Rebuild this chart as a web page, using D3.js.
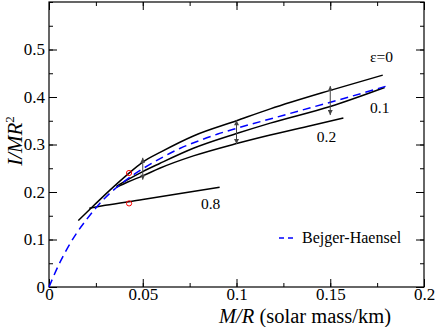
<!DOCTYPE html>
<html>
<head>
<meta charset="utf-8">
<script src="https://cdn.jsdelivr.net/npm/d3@7"></script>
<style>
  body { margin: 0; background: #fff; }
</style>
</head>
<body>
<svg id="chart" width="436" height="327" font-family="'Liberation Serif', 'Times New Roman', serif"></svg>
<script>
// values, [M/R, I/MR^2]
const eps0 = [[0.0156, 0.140], [0.024, 0.172], [0.0325, 0.204], [0.041, 0.234], [0.05, 0.263],
  [0.06, 0.285], [0.077, 0.318], [0.1, 0.350], [0.118, 0.375], [0.15, 0.414], [0.178, 0.446]];
const eps01 = [[0.036, 0.212], [0.042, 0.226], [0.05, 0.243], [0.059, 0.260], [0.077, 0.292],
  [0.1, 0.323], [0.118, 0.345], [0.15, 0.380], [0.179, 0.420]];
const eps02 = [[0.036, 0.210], [0.042, 0.221], [0.05, 0.234], [0.059, 0.250], [0.077, 0.276],
  [0.1, 0.302], [0.118, 0.320], [0.14, 0.340], [0.157, 0.356]];
const eps08 = [[0.0215, 0.166], [0.03, 0.172], [0.05, 0.184], [0.07, 0.197], [0.091, 0.210]];
const bejger = [[0, 0], [0.005, 0.045], [0.01, 0.083], [0.015, 0.115], [0.02, 0.142], [0.03, 0.188],
  [0.04, 0.222], [0.05, 0.249], [0.06, 0.272], [0.07, 0.292], [0.08, 0.308], [0.09, 0.322],
  [0.1, 0.334], [0.12, 0.356], [0.14, 0.378], [0.16, 0.400], [0.18, 0.423]];
const circles = [[0.0427, 0.240], [0.0427, 0.176]];
// double arrows: x, top, bottom
const arrows = [[0.05, 0.272, 0.226], [0.1, 0.351, 0.301], [0.15, 0.423, 0.362]];

const xTicks = [0, 0.05, 0.1, 0.15, 0.2];
const xTickLabels = ['0', '0.05', '0.1', '0.15', '0.2'];
const yTicks = [0, 0.1, 0.2, 0.3, 0.4, 0.5];
const yTickLabels = ['0', '0.1', '0.2', '0.3', '0.4', '0.5'];
const curveLabels = [
  { text: 'ε=0', x: 0.1712, y: 0.474 },
  { text: '0.1', x: 0.1712, y: 0.366 },
  { text: '0.2', x: 0.1428, y: 0.305 },
  { text: '0.8', x: 0.081, y: 0.164 }
];

const margin = { top: 2, right: 12, bottom: 40, left: 49 };
const W = 436, H = 327;

const svg = d3.select('#chart');

const x = d3.scaleLinear().domain([0, 0.2]).range([margin.left, W - margin.right]);
const y = d3.scaleLinear().domain([0, 0.6]).range([H - margin.bottom, margin.top]);

// ticks on all four sides, pointing inwards
const xMinor = d3.range(0, 0.2001, 0.025);
const yMinor = d3.range(0, 0.6001, 0.05);
const axisG = svg.append('g');

axisG.append('g').attr('transform', `translate(0,${y(0)})`)
  .call(d3.axisBottom(x).tickValues(xMinor).tickSize(-4).tickFormat(''));
axisG.append('g').attr('transform', `translate(0,${y(0)})`)
  .call(d3.axisBottom(x).tickValues(xTicks).tickSize(-8).tickPadding(1)
    .tickFormat((d, i) => xTickLabels[i]));
axisG.append('g').attr('transform', `translate(0,${y(0.6)})`)
  .call(d3.axisTop(x).tickValues(xMinor).tickSize(-4).tickFormat(''));
axisG.append('g').attr('transform', `translate(0,${y(0.6)})`)
  .call(d3.axisTop(x).tickValues(xTicks).tickSize(-8).tickFormat(''));

axisG.append('g').attr('transform', `translate(${x(0)},0)`)
  .call(d3.axisLeft(y).tickValues(yMinor).tickSize(-4).tickFormat(''));
axisG.append('g').attr('transform', `translate(${x(0)},0)`)
  .call(d3.axisLeft(y).tickValues(yTicks).tickSize(-8).tickPadding(4)
    .tickFormat((d, i) => yTickLabels[i]));
axisG.append('g').attr('transform', `translate(${x(0.2)},0)`)
  .call(d3.axisRight(y).tickValues(yMinor).tickSize(-4).tickFormat(''));
axisG.append('g').attr('transform', `translate(${x(0.2)},0)`)
  .call(d3.axisRight(y).tickValues(yTicks).tickSize(-8).tickFormat(''));

axisG.selectAll('g').attr('font-family', "'Liberation Serif', serif").attr('font-size', 17);
axisG.selectAll('.domain').remove();
axisG.selectAll('.tick line').attr('stroke', '#000');
axisG.selectAll('.tick text').attr('fill', '#000');

// frame
svg.append('rect')
  .attr('x', x(0)).attr('y', y(0.6))
  .attr('width', x(0.2) - x(0)).attr('height', y(0) - y(0.6))
  .attr('fill', 'none').attr('stroke', '#000').attr('stroke-width', 1.2);

const line = d3.line()
  .x(d => x(d[0]))
  .y(d => y(d[1]))
  .curve(d3.curveMonotoneX);

[eps0, eps01, eps02, eps08].forEach(s => {
  svg.append('path')
    .datum(s)
    .attr('d', line)
    .attr('fill', 'none')
    .attr('stroke', '#000')
    .attr('stroke-width', 1.5);
});

svg.append('path')
  .datum(bejger)
  .attr('d', line)
  .attr('fill', 'none')
  .attr('stroke', '#0000ff')
  .attr('stroke-width', 1.5)
  .attr('stroke-dasharray', '8,5');

svg.selectAll('.pt')
  .data(circles)
  .join('circle')
  .attr('cx', d => x(d[0]))
  .attr('cy', d => y(d[1]))
  .attr('r', 2.6)
  .attr('fill', 'none')
  .attr('stroke', '#ff0000')
  .attr('stroke-width', 1);

// arrowheads
const defs = svg.append('defs');
defs.append('marker')
  .attr('id', 'head')
  .attr('viewBox', '0 0 10 10')
  .attr('refX', 10).attr('refY', 5)
  .attr('markerWidth', 6).attr('markerHeight', 5)
  .attr('markerUnits', 'userSpaceOnUse')
  .attr('orient', 'auto-start-reverse')
  .append('path')
  .attr('d', 'M0,0 L10,5 L0,10 Z')
  .attr('fill', '#444');

svg.selectAll('.arr')
  .data(arrows)
  .join('line')
  .attr('x1', d => x(d[0])).attr('x2', d => x(d[0]))
  .attr('y1', d => y(d[1])).attr('y2', d => y(d[2]))
  .attr('stroke', '#444')
  .attr('stroke-width', 1)
  .attr('marker-start', 'url(#head)')
  .attr('marker-end', 'url(#head)');

svg.selectAll('.clab')
  .data(curveLabels)
  .join('text')
  .attr('x', d => x(d.x))
  .attr('y', d => y(d.y))
  .attr('font-size', 15.5)
  .text(d => d.text);

// legend
const lg = svg.append('g').attr('transform', 'translate(279,238)');
lg.append('line')
  .attr('x1', 0).attr('x2', 15).attr('y1', 0).attr('y2', 0)
  .attr('stroke', '#0000ff').attr('stroke-width', 1.5)
  .attr('stroke-dasharray', '5,4');
lg.append('text')
  .attr('x', 23).attr('y', 5)
  .attr('font-size', 16)
  .text('Bejger-Haensel');

// axis titles
const xt = svg.append('text')
  .attr('x', 305).attr('y', 322.5)
  .attr('text-anchor', 'middle')
  .attr('font-size', 20.5);
xt.append('tspan').attr('font-style', 'italic').text('M/R');
xt.append('tspan').text(' (solar mass/km)');

const yt = svg.append('text')
  .attr('transform', 'translate(22,141) rotate(-90)')
  .attr('text-anchor', 'middle')
  .attr('font-size', 21);
yt.append('tspan').attr('font-style', 'italic').text('I/MR');
yt.append('tspan').attr('font-size', 13).attr('dy', -8).text('2');
</script>
</body>
</html>
